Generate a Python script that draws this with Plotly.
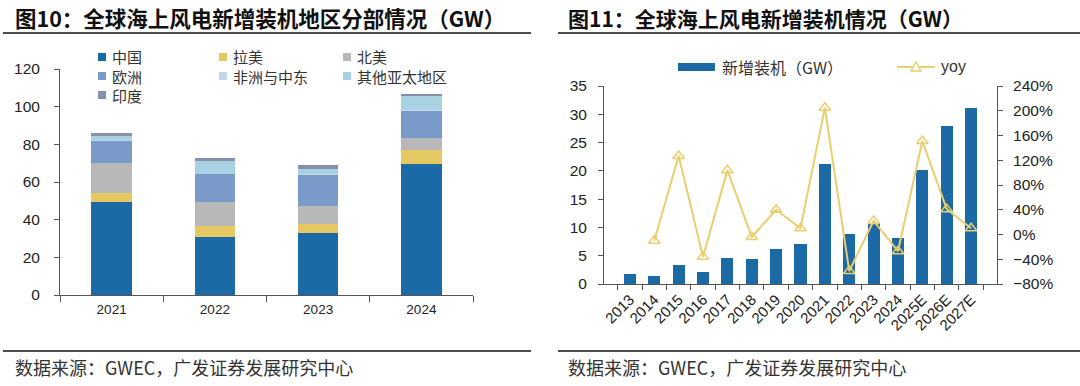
import plotly.graph_objects as go

W, H = 1080, 386

# ---------- data: left chart ----------
years_left = ["2021", "2022", "2023", "2024"]
china = [49.2, 31.0, 32.7, 69.4]
latam = [4.8, 5.6, 5.2, 7.6]
north_america = [16.3, 13.0, 9.5, 6.5]
europe = [11.8, 14.7, 16.7, 14.4]
africa_me = [0.2, 0.2, 0.2, 0.2]
other_apac = [2.3, 6.9, 2.6, 7.8]
india = [1.3, 1.2, 2.1, 0.9]

left_names = ["中国", "拉美", "北美", "欧洲", "非洲与中东", "其他亚太地区", "印度"]
left_colors = ["#1B69A5", "#E6C862", "#B8B8B8", "#7A9BCA", "#C3D6EE", "#A8D2E2", "#8390AE"]
left_series = [china, latam, north_america, europe, africa_me, other_apac, india]

# ---------- data: right chart ----------
years_right = ["2013", "2014", "2015", "2016", "2017", "2018", "2019", "2020",
               "2021", "2022", "2023", "2024", "2025E", "2026E", "2027E"]
new_install = [1.7, 1.5, 3.4, 2.2, 4.6, 4.4, 6.1, 7.0, 21.2, 8.9, 10.8, 8.1, 20.1, 27.9, 31.1]
yoy = [None, -10, 127, -36, 104, -4, 40, 10, 205, -59, 22, -27, 151, 41, 10]


def X(px):
    return px / W


def Y(py):
    return 1 - py / H


fig = go.Figure()

for name, color, vals in zip(left_names, left_colors, left_series):
    fig.add_trace(go.Bar(x=years_left, y=vals, name=name, marker_color=color,
                         marker_line_width=0, width=0.39, xaxis="x", yaxis="y",
                         showlegend=False))

fig.add_trace(go.Bar(x=years_right, y=new_install, name="新增装机（GW）",
                     marker_color="#1B69A5", marker_line_width=0, width=0.5,
                     xaxis="x2", yaxis="y2", showlegend=False))
fig.add_trace(go.Scatter(x=years_right, y=yoy, name="yoy", mode="lines+markers",
                         line=dict(color="#EACD6C", width=2),
                         marker=dict(symbol="triangle-up-open", size=10,
                                     color="#EACD6C", line=dict(width=1.5)),
                         xaxis="x2", yaxis="y3", showlegend=False))

axis_color = "#555555"
tick_font = dict(family="Liberation Sans, Arial, sans-serif", size=15.5, color="#222222")
xtick_font_left = dict(family="Liberation Sans, Arial, sans-serif", size=13.5, color="#222222")
xtick_font_right = dict(family="Liberation Sans, Arial, sans-serif", size=15, color="#222222")

common = dict(showline=True, linecolor=axis_color, linewidth=1, ticks="outside",
              tickcolor=axis_color, showgrid=False, zeroline=False, automargin=False,
              fixedrange=True)

layout = dict(
    width=W, height=H, autosize=False,
    margin=dict(l=0, r=0, t=0, b=0, pad=0, autoexpand=False),
    paper_bgcolor="white", plot_bgcolor="white",
    barmode="stack", showlegend=False,
    xaxis=dict(domain=[X(60), X(473)], type="category", tickson="boundaries",
               ticklen=6, tickfont=xtick_font_left, anchor="y", ticklabelstandoff=2, **common),
    yaxis=dict(domain=[Y(295), Y(69)], range=[0, 120], dtick=20, ticklen=5,
               tickfont=tick_font, anchor="x", ticklabelstandoff=11, **common),
    xaxis2=dict(domain=[X(604), X(997)], type="category", tickson="boundaries",
                ticklen=5, tickangle=-45, tickfont=xtick_font_right, anchor="y2", **common),
    yaxis2=dict(domain=[Y(284), Y(86)], range=[0, 35], dtick=5, ticklen=5,
                tickfont=tick_font, anchor="x2", ticklabelstandoff=8, **common),
    yaxis3=dict(domain=[Y(284), Y(86)], range=[-80, 240], dtick=40, ticksuffix="%",
                overlaying="y2", side="right", ticklen=5, tickfont=tick_font,
                anchor="x2", ticklabelstandoff=7, **common),
)
fig.update_layout(**layout)

shapes = []
annotations = []

title_font = dict(family="Noto Sans CJK SC, sans-serif", size=21.5, color="#111111")
annotations.append(dict(text="<b>图10：全球海上风电新增装机地区分部情况（GW）</b>",
                        x=X(13), y=Y(18), xref="paper", yref="paper",
                        xanchor="left", yanchor="middle", showarrow=False, font=title_font))
annotations.append(dict(text="<b>图11：全球海上风电新增装机情况（GW）</b>",
                        x=X(566), y=Y(18), xref="paper", yref="paper",
                        xanchor="left", yanchor="middle", showarrow=False,
                        font=dict(family="Noto Sans CJK SC, sans-serif", size=21, color="#111111")))

# header/footer rules
for (x0, x1) in [(3, 531), (558, 1080)]:
    for py in (33, 351):
        shapes.append(dict(type="line", xref="paper", yref="paper", x0=X(x0), x1=X(x1),
                           y0=Y(py), y1=Y(py), line=dict(color="#111111", width=1.5)))

foot_font = dict(family="Noto Sans CJK SC, sans-serif", size=18, color="#333333")
for fx in (13, 566):
    annotations.append(dict(text="数据来源：GWEC，广发证券发展研究中心", x=X(fx), y=Y(367),
                            xref="paper", yref="paper", xanchor="left", yanchor="middle",
                            showarrow=False, font=foot_font))

# left legend
leg_font = dict(family="Noto Sans CJK SC, sans-serif", size=15, color="#333333")
col_x = [102, 223, 347]
row_y = [57, 76, 95]
for i, (name, color) in enumerate(zip(left_names, left_colors)):
    cx = col_x[i % 3]
    cy = row_y[i // 3]
    shapes.append(dict(type="rect", xref="paper", yref="paper",
                       x0=X(cx - 4), x1=X(cx + 4), y0=Y(cy + 4), y1=Y(cy - 4),
                       fillcolor=color, line=dict(width=0)))
    annotations.append(dict(text=name, x=X(cx + 8), y=Y(cy), xref="paper", yref="paper",
                            xanchor="left", yanchor="middle", showarrow=False, font=leg_font))

# right legend
shapes.append(dict(type="rect", xref="paper", yref="paper", x0=X(678), x1=X(715),
                   y0=Y(71), y1=Y(63), fillcolor="#1B69A5", line=dict(width=0)))
annotations.append(dict(text="新增装机（GW）", x=X(720), y=Y(67), xref="paper", yref="paper",
                        xanchor="left", yanchor="middle", showarrow=False,
                        font=dict(family="Noto Sans CJK SC, sans-serif", size=16, color="#333333")))
shapes.append(dict(type="line", xref="paper", yref="paper", x0=X(897), x1=X(935),
                   y0=Y(67), y1=Y(67), line=dict(color="#EACD6C", width=2)))
shapes.append(dict(type="path", xref="paper", yref="paper",
                   path=f"M {X(911)} {Y(71)} L {X(921)} {Y(71)} L {X(916)} {Y(62)} Z",
                   fillcolor="white", line=dict(color="#EACD6C", width=1.5)))
annotations.append(dict(text="yoy", x=X(939), y=Y(67), xref="paper", yref="paper",
                        xanchor="left", yanchor="middle", showarrow=False,
                        font=dict(family="Liberation Sans, Arial, sans-serif", size=16, color="#333333")))

fig.update_layout(shapes=shapes, annotations=annotations)

fig.write_html("out.html", config={"displayModeBar": False},
               post_script="document.body.style.margin='0px';document.body.style.overflow='hidden';")
